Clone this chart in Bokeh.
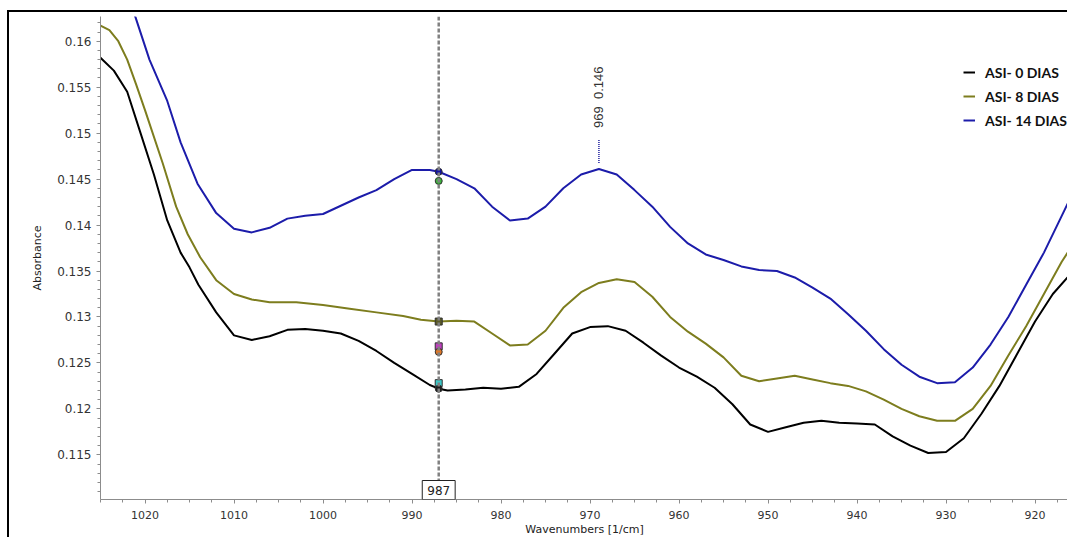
import math
from bokeh.plotting import figure
from bokeh.models import (Range1d, SingleIntervalTicker, NumeralTickFormatter, Span,
                          Label, Legend, LegendItem)
from bokeh.embed import file_html
from bokeh.resources import INLINE

# ---------------- data ----------------
wn_0 = [1025, 1023.5, 1022, 1020.5, 1019, 1017.5, 1016, 1015, 1014, 1012, 1010, 1008, 1006,
        1004, 1002, 1000, 998, 996, 994, 992, 990, 988, 987, 986, 984, 982, 980, 978, 976,
        974, 972, 970, 968, 966, 964, 962, 960, 958, 956, 954, 952, 950, 948, 946, 944,
        942, 940, 938, 936, 934, 932, 930, 928, 926, 924, 922, 920, 918, 916]
abs_0 = [0.1582, 0.1568, 0.1545, 0.1500, 0.1455, 0.1405, 0.1370, 0.1354, 0.1335, 0.1305,
         0.1280, 0.1275, 0.1279, 0.1286, 0.1287, 0.1285, 0.1282, 0.1274, 0.1263, 0.1250,
         0.1238, 0.1226, 0.1222, 0.1220, 0.1221, 0.1223, 0.1222, 0.1224, 0.1238, 0.1260,
         0.1282, 0.1289, 0.1290, 0.1285, 0.1272, 0.1258, 0.1245, 0.1235, 0.1223, 0.1205,
         0.1183, 0.1175, 0.1180, 0.1185, 0.1187, 0.1185, 0.1184, 0.1183, 0.1170, 0.1160,
         0.1152, 0.1153, 0.1168, 0.1195, 0.1225, 0.1260, 0.1295, 0.1325, 0.1347]

wn_8 = [1025, 1024, 1023, 1022, 1021, 1020, 1018, 1016.5, 1015.2, 1013.8, 1012, 1010, 1008,
        1006, 1003, 1000, 997, 994, 991, 989, 987, 985, 983, 981, 979, 977, 975, 973, 971,
        969, 967, 965, 963, 961, 959, 957, 955, 953, 951, 949, 947, 945, 943, 941, 939,
        937, 935, 933, 931, 929, 927, 925, 923, 921, 919, 917, 916]
abs_8 = [0.1617, 0.1612, 0.1600, 0.1580, 0.1553, 0.1525, 0.1467, 0.1420, 0.1390, 0.1365,
         0.1340, 0.1325, 0.1319, 0.1316, 0.1316, 0.1313, 0.1309, 0.1305, 0.1301, 0.1297,
         0.1295, 0.1296, 0.1295, 0.1282, 0.1269, 0.1270, 0.1285, 0.1310, 0.1327, 0.1337,
         0.1341, 0.1338, 0.1322, 0.1300, 0.1284, 0.1271, 0.1256, 0.1236, 0.1230, 0.1233,
         0.1236, 0.1232, 0.1228, 0.1225, 0.1219, 0.1210, 0.1200, 0.1192, 0.1187, 0.1187,
         0.1200, 0.1225, 0.1258, 0.1290, 0.1325, 0.1360, 0.1375]

wn_14 = [1022, 1021.1, 1019.5, 1017.5, 1016, 1014.1, 1012, 1010, 1008, 1006, 1004, 1002,
         1000, 998, 996, 994, 992, 990, 988, 987, 985, 983, 981, 979, 977, 975, 973, 971,
         969, 967, 965, 963, 961, 959, 957, 955, 953, 951, 949, 947, 945, 943, 941, 939,
         937, 935, 933, 931, 929, 927, 925, 923, 921, 919, 917, 916]
abs_14 = [0.1655, 0.1627, 0.1580, 0.1535, 0.1490, 0.1445, 0.1413, 0.1396, 0.1392, 0.1397,
          0.1407, 0.1410, 0.1412, 0.1421, 0.1430, 0.1438, 0.1450, 0.1460, 0.1460, 0.1458,
          0.1450, 0.1440, 0.1420, 0.1405, 0.1407, 0.1420, 0.1440, 0.1455, 0.1461, 0.1455,
          0.1438, 0.1420, 0.1398, 0.1380, 0.1368, 0.1362, 0.1355, 0.1351, 0.1350, 0.1343,
          0.1332, 0.1320, 0.1303, 0.1285, 0.1265, 0.1248, 0.1235, 0.1228, 0.1229, 0.1245,
          0.1270, 0.1300, 0.1335, 0.1370, 0.1410, 0.1430]

series_names = ["ASI- 0 DIAS", "ASI- 8 DIAS", "ASI- 14 DIAS"]
series_colors = ["#000000", "#7d7d1e", "#1c1caa"]

cursor_x = 987
cursor_vals = [0.1458, 0.1448, 0.1295, 0.1268, 0.1262, 0.1228, 0.1222]
cursor_colors = ["#1414a0", "#3cb43c", "#5a5a28", "#c040c0", "#e07828", "#3cc8c8", "#1e1e1e"]
cursor_shapes = ["circle", "circle", "square", "square", "circle", "square", "circle"]

x_tick_step = 10
y_tick_step = 0.005

# ---------------- figure ----------------
X0, X1 = 1025.0, 916.24
Y0, Y1 = 0.11014, 0.16269

p = figure(width=1060, height=527, output_backend="svg", toolbar_location=None,
           x_range=Range1d(X0, X1), y_range=Range1d(Y0, Y1),
           min_border_left=91, min_border_right=1, min_border_top=4, min_border_bottom=40)
p.styles = {"margin-left": "7px", "margin-top": "10px",
            "border-left": "2px solid black", "border-top": "2px solid black"}
p.outline_line_color = None
p.grid.visible = False
p.background_fill_color = "white"
p.border_fill_color = "white"

axis_col = "#8c8c8c"
p.xaxis.ticker = SingleIntervalTicker(interval=x_tick_step, num_minor_ticks=4)
p.yaxis.ticker = SingleIntervalTicker(interval=y_tick_step, num_minor_ticks=5)
p.yaxis.formatter = NumeralTickFormatter(format="0.[000]")
for ax in (p.xaxis, p.yaxis):
    ax.axis_line_color = axis_col
    ax.major_tick_line_color = axis_col
    ax.minor_tick_line_color = axis_col
    ax.major_tick_in = 0
    ax.minor_tick_in = 0
    ax.major_tick_out = 4
    ax.minor_tick_out = 3
    ax.major_label_text_color = "#333333"
    ax.major_label_text_font = "DejaVu Sans"
    ax.axis_label_text_font = "DejaVu Sans"
    ax.axis_label_text_font_style = "normal"
    ax.axis_label_text_font_size = "11px"
    ax.axis_label_text_color = "#222222"
p.xaxis.major_label_text_font_size = "11px"
p.yaxis.major_label_text_font_size = "12px"
p.xaxis.major_label_standoff = 7
p.yaxis.major_label_standoff = 5
p.xaxis.axis_label = "Wavenumbers [1/cm]"
p.xaxis.axis_label_standoff = 1
p.yaxis.axis_label = "Absorbance"
p.yaxis.axis_label_standoff = 10

# vertical cursor
p.add_layout(Span(location=cursor_x, dimension="height", line_color="#808080",
                  line_width=2.5, line_dash="4 2"))

renderers = []
for xs, ys, col in ((wn_0, abs_0, series_colors[0]), (wn_8, abs_8, series_colors[1]),
                    (wn_14, abs_14, series_colors[2])):
    renderers.append(p.line(xs, ys, line_color=col, line_width=2))

# cursor markers
p.scatter(x=[cursor_x] * len(cursor_vals), y=cursor_vals, marker=cursor_shapes,
          fill_color=cursor_colors, line_color="#303030", line_width=1, size=7)

# peak annotation on ASI-14 between 960 and 975
cand = [(y, x) for x, y in zip(wn_14, abs_14) if 960 <= x <= 975]
peak_y, peak_x = max(cand)
ppx = (Y1 - Y0) / 483.0
p.segment(x0=[peak_x], y0=[peak_y + 6 * ppx], x1=[peak_x], y1=[peak_y + 29 * ppx],
          line_color="#2020a0", line_width=1.5, line_dash="1 1")
p.add_layout(Label(x=peak_x, y=peak_y + 41 * ppx, text=f"{peak_x:.0f}\u00a0\u00a0{peak_y:.3f}",
                   angle=math.pi / 2, text_align="left", text_baseline="middle",
                   text_font="Liberation Sans", text_font_size="13px", text_color="#333333"))

# cursor position box (kept inside the frame, on the axis)
p.add_layout(Label(x=cursor_x, y=Y0, text=f"{cursor_x}", text_align="center",
                   text_baseline="bottom", text_font="DejaVu Sans", text_font_size="12px",
                   text_color="#222222", padding=5, border_line_color="#222222",
                   border_line_width=1, background_fill_color="white"))

legend = Legend(items=[LegendItem(label=n, renderers=[r]) for n, r in zip(series_names, renderers)],
                location=(863, 369), padding=0, margin=0, spacing=4,
                glyph_width=12, glyph_height=20, label_height=20, label_standoff=10,
                label_text_font="Lato", label_text_font_style="bold",
                label_text_font_size="14px", label_text_color="#111111",
                border_line_color=None, background_fill_color="white", background_fill_alpha=1.0)
p.add_layout(legend)

open("out.html", "w").write(file_html(p, INLINE))
